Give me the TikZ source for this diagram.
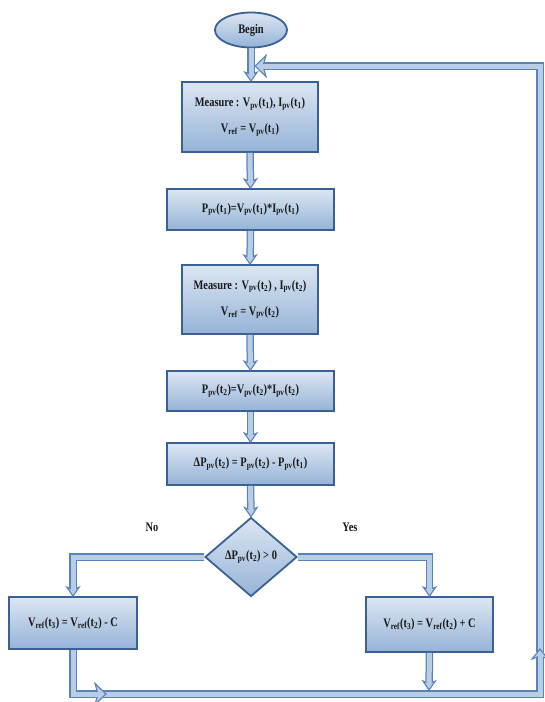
\documentclass[tikz,border=0pt]{standalone}
\usepackage{fontspec}
\setmainfont[FakeStretch=0.8]{Liberation Serif}
\usetikzlibrary{shapes.geometric,decorations.markings}
\definecolor{bdr}{HTML}{3A6194}
\definecolor{ftop}{HTML}{DCE6F2}
\definecolor{fbot}{HTML}{95B3D7}
\definecolor{cdk}{HTML}{5A83B8}
\definecolor{clt}{HTML}{B9CDE5}
\definecolor{txt}{HTML}{1A1A1A}
\newcommand{\sbs}[1]{\textsubscript{#1}}
\begin{document}
\begin{tikzpicture}[x=1pt,y=-1pt,
  font=\fontsize{13}{15}\selectfont\bfseries,
  blk/.style={draw=bdr, line width=1.8pt, top color=ftop, bottom color=fbot,
    text=txt, align=center, inner sep=0pt},
  box/.style={blk, rectangle, minimum width=#1},
  % block connector: #1 head length, #2 head width, #3 notch depth, #4 shaft shortening
  cn/.style n args={4}{draw=cdk, line width=7.5pt, line join=miter, shorten >=#4,
    postaction={draw=clt, line width=5pt, shorten >=#4},
    postaction={decorate, decoration={markings, mark=at position 1 with {
      \draw[draw=cdk, fill=clt, line width=1.1pt, line join=miter, shorten >=0pt]
        (0,0) -- (-#1,#2/2) -- (-#1+#3,0) -- (-#1,-#2/2) -- cycle;
      \fill[clt] (-#1-0.6,-2.5) rectangle (-#1+#3+0.8,2.5);
    }}}},
  conn/.style={cn={9}{12.5}{2.5}{6pt}},
  midconn/.style={cn={10}{16}{3}{6.5pt}},
  bigconn/.style={cn={11}{21}{3}{7.5pt}},
  lbl/.style={text=txt, inner sep=0pt}
]
\useasboundingbox (0,0) rectangle (544,702);

% nodes
\node[blk, ellipse, minimum width=72pt, minimum height=35pt] (begin) at (251,30) {Begin};
\node[box=136pt, minimum height=70pt] (b1) at (250,117)
  {Measure : V\sbs{pv}(t\sbs{1}), I\sbs{pv}(t\sbs{1})\\[11pt] V\sbs{ref} = V\sbs{pv}(t\sbs{1})};
\node[box=167pt, minimum height=41pt] (b2) at (250.5,209.5)
  {P\sbs{pv}(t\sbs{1})=V\sbs{pv}(t\sbs{1})*I\sbs{pv}(t\sbs{1})};
\node[box=136pt, minimum height=69pt] (b3) at (250,299.5)
  {Measure : V\sbs{pv}(t\sbs{2}) , I\sbs{pv}(t\sbs{2})\\[11pt] V\sbs{ref} = V\sbs{pv}(t\sbs{2})};
\node[box=167pt, minimum height=40pt] (b4) at (250.5,391)
  {P\sbs{pv}(t\sbs{2})=V\sbs{pv}(t\sbs{2})*I\sbs{pv}(t\sbs{2})};
\node[box=167pt, minimum height=42pt] (b5) at (250.5,464)
  {ΔP\sbs{pv}(t\sbs{2}) = P\sbs{pv}(t\sbs{2}) - P\sbs{pv}(t\sbs{1})};
\node[blk, diamond, minimum width=92pt, minimum height=79pt] (dia) at (251,557)
  {ΔP\sbs{pv}(t\sbs{2}) > 0};
\node[box=128pt, minimum height=52pt] (L) at (73,623)
  {V\sbs{ref}(t\sbs{3}) = V\sbs{ref}(t\sbs{2}) - C};
\node[box=127pt, minimum height=55pt] (R) at (429.5,624.5)
  {V\sbs{ref}(t\sbs{3}) = V\sbs{ref}(t\sbs{2}) + C};
\node[lbl] (no) at (152,527) {No};
\node[lbl] (yes) at (350,527) {Yes};

% coordinates for loop
\coordinate (entry) at (255,66);
\coordinate (trc) at (540,66);
\coordinate (brc) at (540,694);
\coordinate (upa) at (540,649);
\coordinate (upb) at (540,652);
\coordinate (bls) at (95,694);
\coordinate (arrL) at (106,694);
\coordinate (arrR) at (429,690);

% main chain
\draw[conn] (begin.south) -- (begin.south |- b1.north);
\draw[conn] (b1.south) -- (b2.north);
\draw[conn] (b2.south) -- (b3.north);
\draw[conn] (b3.south) -- (b4.north);
\draw[conn] (b4.south) -- (b5.north);
\draw[conn] (b5.south) -- (dia.north);
\draw[conn] (dia.west) -| (L.north);
\draw[conn] (dia.east) -| (R.north);

% feedback loop
\draw[bigconn] (upb) -- (trc) -- (entry);
\draw[midconn] (bls) -- (brc) -- (upa);
\draw[bigconn] (L.south) |- (arrL);
\draw[conn] (R.south) -- (arrR);
\end{tikzpicture}
\end{document}
